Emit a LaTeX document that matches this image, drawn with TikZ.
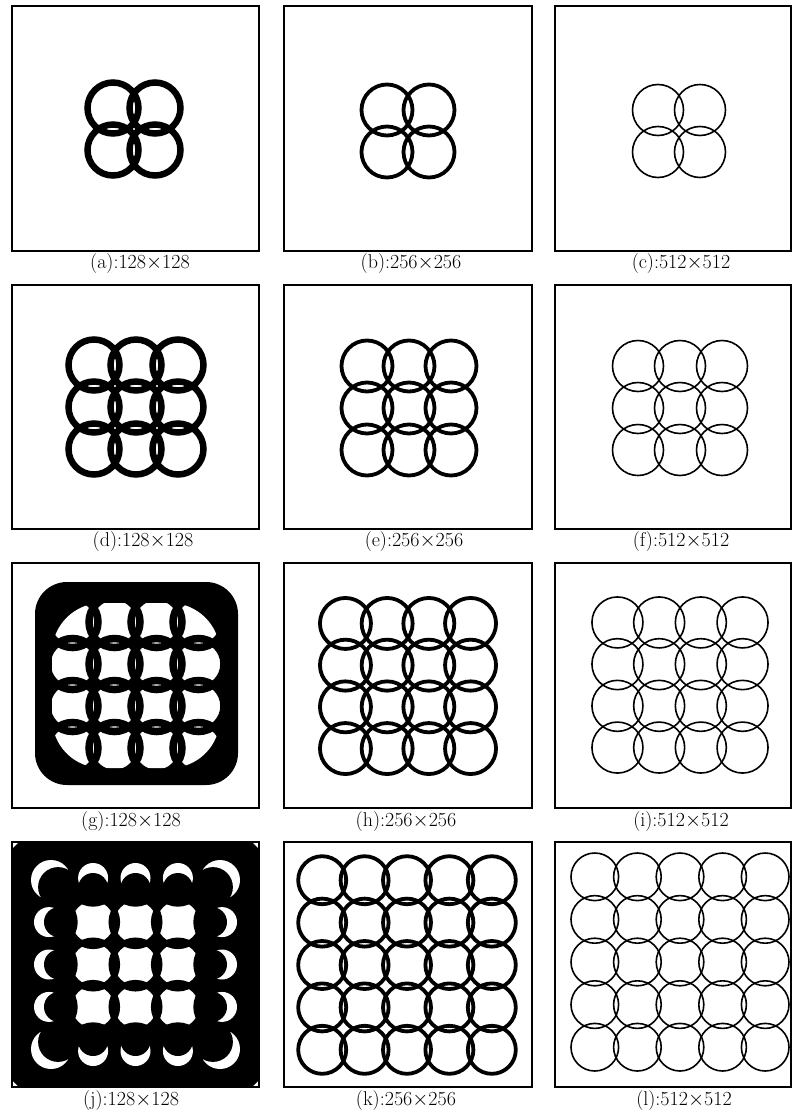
\documentclass[tikz,border=0pt]{standalone}
\usepackage{tikz}
\usetikzlibrary{positioning}
% square grid of overlapping rings: centre x, centre y, count, spacing, radius, line width
\newcommand{\ringgrid}[6]{%
  \foreach \i in {1,...,#3}{\foreach \j in {1,...,#3}{%
    \draw[line width=#6pt] ({#1+(\i-(#3+1)/2)*#4},{#2+(\j-(#3+1)/2)*#4}) circle[radius=#5];}}}
% white interiors of the same rings
\newcommand{\holegrid}[5]{%
  \foreach \i in {1,...,#3}{\foreach \j in {1,...,#3}{%
    \fill[white] ({#1+(\i-(#3+1)/2)*#4},{#2+(\j-(#3+1)/2)*#4}) circle[radius=#5];}}}
% crescent hole: x, y, shift of the black disc, radius
\newcommand{\crescent}[5]{%
  \fill[white] ({#1},{#2}) circle[radius=#5];
  \fill ({#1+#3},{#2+#4}) circle[radius=#5];}

\begin{document}
\begin{tikzpicture}[x=1pt,y=-1pt,font=\fontsize{20}{23}\selectfont,
  panel/.style={line width=1.2pt},
  caption/.style={inner sep=0pt}]
\useasboundingbox (0,0) rectangle (792,1119);

% frames
\draw[panel] (12,6) rectangle (259,251);
\draw[panel] (284,6) rectangle (532,251);
\draw[panel] (555,6) rectangle (791,251);
\draw[panel] (12,285) rectangle (259,529);
\draw[panel] (284,285) rectangle (532,529);
\draw[panel] (555,285) rectangle (791,529);
\draw[panel] (12,563) rectangle (259,808);
\draw[panel] (284,563) rectangle (532,808);
\draw[panel] (555,563) rectangle (791,808);
\draw[panel] (12,842) rectangle (259,1087);
\draw[panel] (284,842) rectangle (532,1087);
\draw[panel] (555,842) rectangle (791,1087);

% 2 x 2
\ringgrid{134}{129}{2}{42}{25.5}{6.5}
\ringgrid{408}{131}{2}{42}{25.5}{3.8}
\ringgrid{679}{131}{2}{42}{25.5}{1.6}

% 3 x 3
\ringgrid{136}{407}{3}{42}{25.5}{6.5}
\ringgrid{409}{408}{3}{42}{25.5}{3.8}
\ringgrid{680}{408}{3}{42}{25.5}{1.6}

% 4 x 4
\fill[rounded corners=32] (35,582) rectangle (238,785);
\begin{scope}
  \clip[rounded corners=50] (52,603) rectangle (220,768);
  \holegrid{135.5}{685}{4}{42}{25.5}
\end{scope}
\ringgrid{135.5}{685}{4}{42}{25.5}{7.5}
\ringgrid{408}{686}{4}{41.7}{25.5}{3.8}
\ringgrid{680}{685}{4}{41.7}{25.5}{1.6}

% 5 x 5
\fill (19,842) -- (252,842) -- (259,849) -- (259,1080) -- (252,1087)
  -- (19,1087) -- (12,1080) -- (12,849) -- cycle;
\foreach \k in {-1,0,1}{
  \crescent{135.5+\k*42.4}{878}{0}{10}{15}
  \crescent{135.5+\k*42.4}{1051}{0}{-10}{15}
  \crescent{49}{964.5+\k*42.4}{10}{0}{15}
  \crescent{222}{964.5+\k*42.4}{-10}{0}{15}
}
\crescent{51}{880}{7.1}{7.1}{20}
\crescent{220}{880}{-7.1}{7.1}{20}
\crescent{51}{1049}{7.1}{-7.1}{20}
\crescent{220}{1049}{-7.1}{-7.1}{20}
\holegrid{135.5}{964.5}{3}{42.4}{24}
\ringgrid{135.5}{964.5}{5}{42.4}{24}{6}
\ringgrid{407}{965}{5}{42.4}{24}{3.8}
\ringgrid{680}{962}{5}{42.6}{23.8}{1.6}

% captions
\node[caption] (capa) at (140,264) {(a):128$\times$128};
\node[caption] (capb) at (411,264) {(b):256$\times$256};
\node[caption] (capc) at (681,264) {(c):512$\times$512};
\node[caption] (capd) at (143,541.5) {(d):128$\times$128};
\node[caption] (cape) at (414,541.5) {(e):256$\times$256};
\node[caption] (capf) at (681,541.5) {(f):512$\times$512};
\node[caption] (capg) at (131,821.5) {(g):128$\times$128};
\node[caption] (caph) at (406,821.5) {(h):256$\times$256};
\node[caption] (capi) at (681,821.5) {(i):512$\times$512};
\node[caption] (capj) at (131,1100) {(j):128$\times$128};
\node[caption] (capk) at (406,1100) {(k):256$\times$256};
\node[caption] (capl) at (684,1100) {(l):512$\times$512};
\end{tikzpicture}
\end{document}
